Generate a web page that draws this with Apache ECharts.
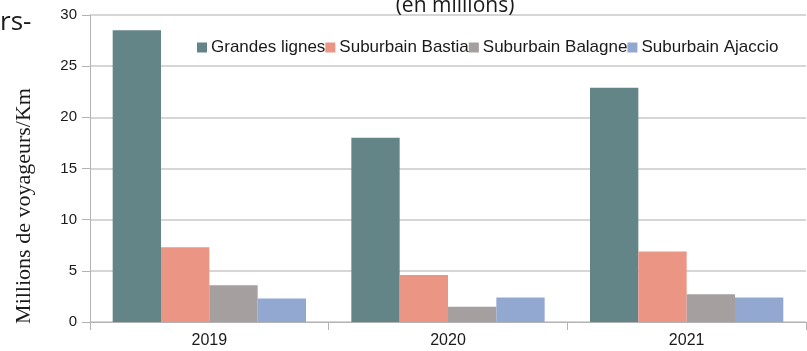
<!DOCTYPE html>
<html>
<head>
<meta charset="utf-8">
<script src="https://cdn.jsdelivr.net/npm/echarts@6/dist/echarts.min.js"></script>
<style>
  html, body { margin: 0; padding: 0; background: #ffffff; }
  #chart { width: 807px; height: 351px; }
</style>
</head>
<body>
<div id="chart"></div>
<script>
// Années
const years = ['2019', '2020', '2021'];

// Millions de voyageurs/km par réseau
const grandesLignes = [28.5, 18.0, 22.9];
const suburbainBastia = [7.3, 4.6, 6.9];
const suburbainBalagne = [3.6, 1.5, 2.7];
const suburbainAjaccio = [2.3, 2.4, 2.4];

const seriesNames = ['Grandes lignes', 'Suburbain Bastia', 'Suburbain Balagne', 'Suburbain Ajaccio'];
const seriesColors = ['#648587', '#eb9585', '#a59f9f', '#92a8d1'];
const seriesValues = [grandesLignes, suburbainBastia, suburbainBalagne, suburbainAjaccio];

// Graduations de l'axe vertical
const yTicks = [0, 5, 10, 15, 20, 25, 30];

const chart = echarts.init(document.getElementById('chart'), null, { renderer: 'canvas' });

const sansFont = '"Liberation Sans", Arial, sans-serif';

chart.setOption({
  animation: false,
  backgroundColor: '#ffffff',
  title: {
    text: '(en millions)',
    left: 450,
    textAlign: 'center',
    top: -9,
    textStyle: { fontFamily: '"Open Sans", sans-serif', fontWeight: 'normal', fontSize: 21, color: '#1a1a1a' }
  },
  graphic: [
    {
      type: 'text',
      left: 0,
      top: 10,
      style: { text: 'rs-', font: '26px "Open Sans", sans-serif', fill: '#1a1a1a' }
    },
    {
      type: 'text',
      x: 24,
      y: 206,
      rotation: Math.PI / 2,
      style: {
        text: 'Millions de voyageurs/Km',
        font: '22px "Liberation Serif", "Times New Roman", serif',
        fill: '#1a1a1a',
        align: 'center',
        verticalAlign: 'middle'
      }
    }
  ],
  legend: {
    data: seriesNames,
    left: 192,
    top: 34,
    itemGap: 0,
    itemWidth: 10,
    itemHeight: 10,
    icon: 'rect',
    textStyle: { fontFamily: sansFont, fontSize: 17, color: '#1a1a1a', padding: [0, 0, 0, -1] }
  },
  grid: { left: 90, right: 1, top: 15, bottom: 29, containLabel: false },
  xAxis: {
    type: 'category',
    data: years,
    axisLine: { lineStyle: { color: '#b3b3b3', width: 1 } },
    axisTick: { show: true, alignWithLabel: false, length: 8, lineStyle: { color: '#b3b3b3' } },
    axisLabel: { fontFamily: sansFont, fontSize: 16, color: '#1a1a1a', margin: 11 }
  },
  yAxis: {
    type: 'value',
    min: yTicks[0],
    max: yTicks[yTicks.length - 1],
    interval: yTicks[1] - yTicks[0],
    axisLine: { show: true, lineStyle: { color: '#b3b3b3', width: 1 } },
    axisTick: { show: true, length: 8, lineStyle: { color: '#b3b3b3' } },
    axisLabel: { fontFamily: sansFont, fontSize: 15, color: '#1a1a1a', margin: 13 },
    splitLine: { show: true, lineStyle: { color: '#c8c8c8', width: 1.5 } }
  },
  series: seriesValues.map((vals, i) => ({
    name: seriesNames[i],
    type: 'bar',
    data: vals,
    barGap: '0%',
    barCategoryGap: '19%',
    itemStyle: { color: seriesColors[i] }
  }))
});
</script>
</body>
</html>
